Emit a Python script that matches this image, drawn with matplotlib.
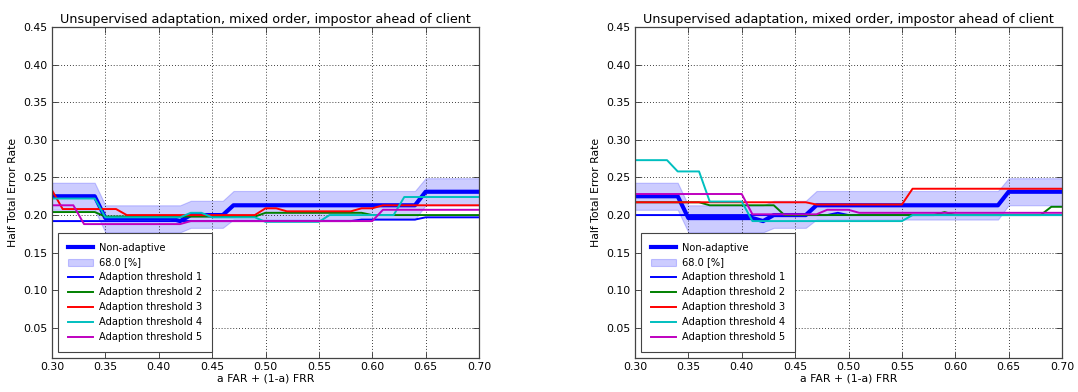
import matplotlib
matplotlib.use("Agg")
import matplotlib.pyplot as plt

# shared reference curve (non-adaptive) and its 68% band
na_x = [0.30, 0.34, 0.35, 0.41, 0.42, 0.43, 0.46, 0.47, 0.64, 0.65, 0.70]
na_y = [0.225, 0.225, 0.196, 0.196, 0.192, 0.200, 0.200, 0.213, 0.213, 0.231, 0.231]
band_x = [0.30, 0.34, 0.35, 0.42, 0.43, 0.46, 0.47, 0.64, 0.65, 0.70]
band_hi = [0.243, 0.243, 0.213, 0.213, 0.219, 0.219, 0.232, 0.232, 0.249, 0.249]
band_lo = [0.207, 0.207, 0.177, 0.177, 0.183, 0.183, 0.194, 0.194, 0.213, 0.213]

# left panel, adaption thresholds 1..5
left_x = [
    [0.30, 0.58, 0.59, 0.64, 0.65, 0.70],
    [0.30, 0.34, 0.35, 0.49, 0.50, 0.59, 0.60, 0.70],
    [0.30, 0.31, 0.36, 0.37, 0.49, 0.50, 0.51, 0.52, 0.58, 0.59, 0.60, 0.61, 0.70],
    [0.30, 0.34, 0.35, 0.42, 0.43, 0.44, 0.45, 0.49, 0.50, 0.55, 0.56, 0.62, 0.63, 0.70],
    [0.30, 0.32, 0.33, 0.42, 0.43, 0.60, 0.61, 0.70],
]
left_y = [
    [0.192, 0.192, 0.194, 0.194, 0.197, 0.197],
    [0.204, 0.204, 0.198, 0.198, 0.203, 0.203, 0.200, 0.200],
    [0.233, 0.208, 0.208, 0.200, 0.200, 0.209, 0.209, 0.205, 0.205, 0.209, 0.209, 0.213, 0.213],
    [0.222, 0.222, 0.197, 0.197, 0.203, 0.203, 0.197, 0.197, 0.191, 0.191, 0.200, 0.200, 0.224, 0.224],
    [0.213, 0.213, 0.188, 0.188, 0.192, 0.192, 0.207, 0.207],
]

# right panel, adaption thresholds 1..5
right_x = [
    [0.30, 0.48, 0.49, 0.50, 0.70],
    [0.30, 0.36, 0.37, 0.43, 0.44, 0.58, 0.59, 0.60, 0.68, 0.69, 0.70],
    [0.30, 0.46, 0.47, 0.55, 0.56, 0.70],
    [0.30, 0.33, 0.34, 0.36, 0.37, 0.40, 0.41, 0.55, 0.56, 0.70],
    [0.30, 0.40, 0.41, 0.47, 0.48, 0.50, 0.51, 0.70],
]
right_y = [
    [0.200, 0.200, 0.203, 0.200, 0.200],
    [0.217, 0.217, 0.213, 0.213, 0.200, 0.200, 0.204, 0.200, 0.200, 0.211, 0.211],
    [0.217, 0.217, 0.214, 0.214, 0.235, 0.235],
    [0.273, 0.273, 0.258, 0.258, 0.218, 0.218, 0.192, 0.192, 0.200, 0.200],
    [0.228, 0.228, 0.201, 0.201, 0.207, 0.207, 0.203, 0.203],
]

colors = ['b', 'g', 'r', 'c', 'm']
title = "Unsupervised adaptation, mixed order, impostor ahead of client"
yticks = [0.05, 0.10, 0.15, 0.20, 0.25, 0.30, 0.35, 0.40, 0.45]
xticks = [0.30, 0.35, 0.40, 0.45, 0.50, 0.55, 0.60, 0.65, 0.70]

plt.rcParams['font.family'] = 'DejaVu Sans'

fig = plt.figure(figsize=(10.78, 3.92), dpi=100)
W, H = 1078.0, 392.0


def panel(left_px, xs, ys):
    ax = fig.add_axes([left_px / W, 1 - 358 / H, 427 / W, 331 / H])
    ax.plot(na_x, na_y, color='b', lw=3.0, label='Non-adaptive')
    ax.fill_between(band_x, band_lo, band_hi, facecolor='b', edgecolor='b',
                    alpha=0.2, lw=0.8, label='68.0 [%]')
    for i in range(5):
        ax.plot(xs[i], ys[i], color=colors[i], lw=1.4,
                label='Adaption threshold %d' % (i + 1))
    ax.set_xlim(0.30, 0.70)
    ax.set_ylim(0.01, 0.45)
    ax.set_xticks(xticks)
    ax.set_yticks(yticks)
    ax.set_xticklabels(['%.2f' % v for v in xticks])
    ax.set_yticklabels(['%.2f' % v for v in yticks])
    ax.tick_params(direction='in', top=True, right=True, labelsize=7.8,
                   pad=3, length=4, width=0.6, color='#333333')
    ax.grid(True, linestyle=(0, (1, 2.5)), color='k', lw=0.6)
    for s in ax.spines.values():
        s.set_color('#444444')
        s.set_linewidth(0.9)
    ax.set_title(title, fontsize=9.2, pad=3)
    ax.set_xlabel('a FAR + (1-a) FRR', fontsize=7.8, labelpad=1)
    ax.set_ylabel('Half Total Error Rate', fontsize=7.8, labelpad=4)
    leg = ax.legend(loc='lower left', fontsize=7.1, borderpad=1.0,
                    labelspacing=0.5, handlelength=2.6, handletextpad=0.6,
                    borderaxespad=0.6, fancybox=False, framealpha=1)
    leg.get_frame().set_edgecolor('#444444')
    leg.get_frame().set_linewidth(0.8)
    return ax


panel(52, left_x, left_y)
panel(635, right_x, right_y)

fig.savefig('out.png', dpi=100)
